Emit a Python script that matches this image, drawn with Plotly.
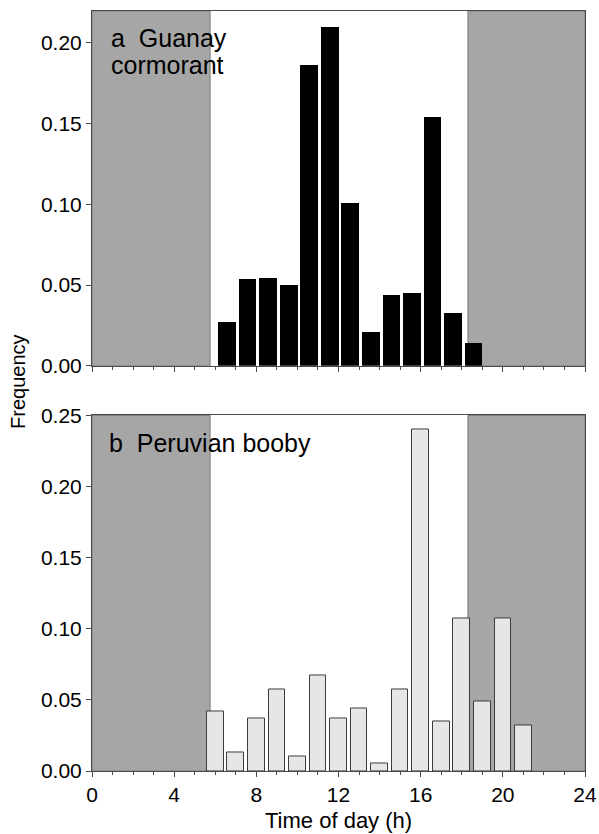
import plotly.graph_objects as go

# Hourly frequency of foraging-trip departures
cormorant_hours = [6, 7, 8, 9, 10, 11, 12, 13, 14, 15, 16, 17, 18]
cormorant_freq = [0.027, 0.054, 0.0545, 0.050, 0.186, 0.210, 0.101, 0.021,
                  0.044, 0.045, 0.154, 0.033, 0.014]

booby_hours = [6, 7, 8, 9, 10, 11, 12, 13, 14, 15, 16, 17, 18, 19, 20, 21]
booby_freq = [0.042, 0.013, 0.037, 0.057, 0.010, 0.067, 0.037, 0.044,
              0.005, 0.057, 0.240, 0.035, 0.107, 0.049, 0.107, 0.032]

sunrise = 5.75
sunset = 18.3
x_ticks = [0, 4, 8, 12, 16, 20, 24]

FONT = "Liberation Sans, Arial, sans-serif"
AX = "#4a4a4a"

fig = go.Figure()

fig.add_trace(go.Bar(
    x=[h + 0.575 for h in cormorant_hours], y=cormorant_freq, width=0.86,
    marker=dict(color="black", line=dict(width=0)),
    xaxis="x", yaxis="y", showlegend=False,
))
fig.add_trace(go.Bar(
    x=booby_hours, y=booby_freq, width=0.81,
    marker=dict(color="#e6e6e6", line=dict(color="#3c3c3c", width=1)),
    xaxis="x2", yaxis="y2", showlegend=False,
))

# Night-time shading (before sunrise and after sunset) in both panels
shapes = []
for xr, yr in (("x", "y domain"), ("x2", "y2 domain")):
    for x0, x1 in ((0, sunrise), (sunset, 24)):
        shapes.append(dict(type="rect", xref=xr, yref=yr, x0=x0, x1=x1,
                           y0=0, y1=1, fillcolor="#a6a6a6",
                           line=dict(color="#7c7c7c", width=1), layer="below"))

axis_common = dict(
    range=[0, 24], showline=True, linecolor=AX, linewidth=1, mirror=True,
    ticks="outside", ticklen=5, tickcolor=AX, tickvals=x_ticks,
    minor=dict(dtick=1, ticks="outside", ticklen=3, tickcolor=AX),
    showgrid=False, zeroline=False, automargin=False,
    tickfont=dict(family=FONT, size=21, color="black"),
)
yaxis_common = dict(
    showline=True, linecolor=AX, linewidth=1, mirror=True,
    ticks="outside", ticklen=5, tickcolor=AX, tickformat=".2f",
    showgrid=False, zeroline=False, automargin=False,
    tickfont=dict(family=FONT, size=21, color="black"),
)

label_font = dict(family=FONT, size=25, color="black")

fig.update_layout(
    width=599, height=834,
    margin=dict(l=92, r=14, t=11, b=63),
    paper_bgcolor="white", plot_bgcolor="white",
    bargap=0, barmode="overlay",
    xaxis=dict(**axis_common, domain=[0, 1], anchor="y", showticklabels=False),
    yaxis=dict(**yaxis_common, domain=[0.5331, 1], range=[0, 0.2196],
               tickvals=[0, 0.05, 0.10, 0.15, 0.20]),
    xaxis2=dict(**axis_common, domain=[0, 1], anchor="y2"),
    yaxis2=dict(**yaxis_common, domain=[0, 0.4678], range=[0, 0.25],
                tickvals=[0, 0.05, 0.10, 0.15, 0.20, 0.25]),
    shapes=shapes,
    annotations=[
        dict(text="a  Guanay", xref="x domain", yref="y domain",
             x=0.034, y=0.924, xanchor="left", yanchor="middle", align="left",
             showarrow=False, font=label_font),
        dict(text="cormorant", xref="x domain", yref="y domain",
             x=0.034, y=0.848, xanchor="left", yanchor="middle", align="left",
             showarrow=False, font=label_font),
        dict(text="b  Peruvian booby", xref="x2 domain", yref="y2 domain",
             x=0.03, y=0.922, xanchor="left", yanchor="middle", align="left",
             showarrow=False, font=label_font),
        dict(text="Frequency", xref="paper", yref="paper", x=-0.150, y=0.512,
             xanchor="center", yanchor="middle", textangle=-90,
             showarrow=False, font=dict(family=FONT, size=20, color="black")),
        dict(text="Time of day (h)", xref="paper", yref="paper", x=0.5,
             y=-0.0645, xanchor="center", yanchor="middle",
             showarrow=False, font=dict(family=FONT, size=22, color="black")),
    ],
)

fig.write_html("out.html")
